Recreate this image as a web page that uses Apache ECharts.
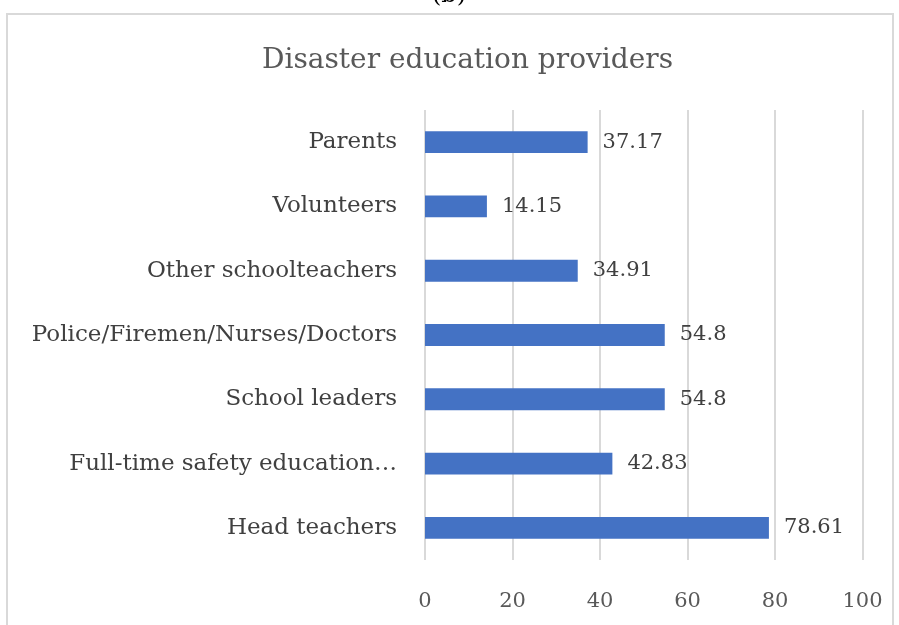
<!DOCTYPE html>
<html><head><meta charset="utf-8">
<script src="https://cdn.jsdelivr.net/npm/echarts@6/dist/echarts.min.js"></script>
<style>html,body{margin:0;padding:0;background:#fff}#c{width:899px;height:625px}</style>
</head><body><div id="c"></div>
<script>
const categories = ["Head teachers","Full-time safety education…","School leaders","Police/Firemen/Nurses/Doctors","Other schoolteachers","Volunteers","Parents"];
const values = [78.61,42.83,54.8,54.8,34.91,14.15,37.17];
const xTicks = [0,20,40,60,80,100];
const titleText = "Disaster education providers";
const font = "'DejaVu Serif', serif";
const chart = echarts.init(document.getElementById('c'));
chart.setOption({
  animation:false,
  graphic:[
    {type:'rect',shape:{x:7,y:14,width:886,height:640},style:{fill:'none',stroke:'#d9d9d9',lineWidth:2}},
    {type:'text',x:449,y:-16,style:{text:'(b)',font:"24px "+font,fill:'#000',align:'center'}}
  ],
  title:{text:titleText,left:257,top:42,textStyle:{fontFamily:font,fontSize:28,fontWeight:'normal',color:'#595959'}},
  grid:{left:425,right:36.5,top:110,bottom:65,containLabel:false},
  xAxis:{type:'value',min:xTicks[0],max:xTicks[xTicks.length-1],interval:20,
    axisLine:{show:false},axisTick:{show:false},
    splitLine:{lineStyle:{color:'#d9d9d9',width:2}},
    axisLabel:{margin:31,color:'#595959',fontFamily:font,fontSize:21}},
  yAxis:{type:'category',data:categories,axisLine:{show:false},axisTick:{show:false},
    axisLabel:{margin:28,color:'#404040',fontFamily:font,fontSize:23}},
  series:[{type:'bar',data:values,barWidth:'34%',itemStyle:{color:'#4472C4'},
    label:{show:true,position:'right',distance:15,color:'#404040',fontFamily:font,fontSize:21,padding:[4,0,0,0]}}]
});
</script></body></html>
